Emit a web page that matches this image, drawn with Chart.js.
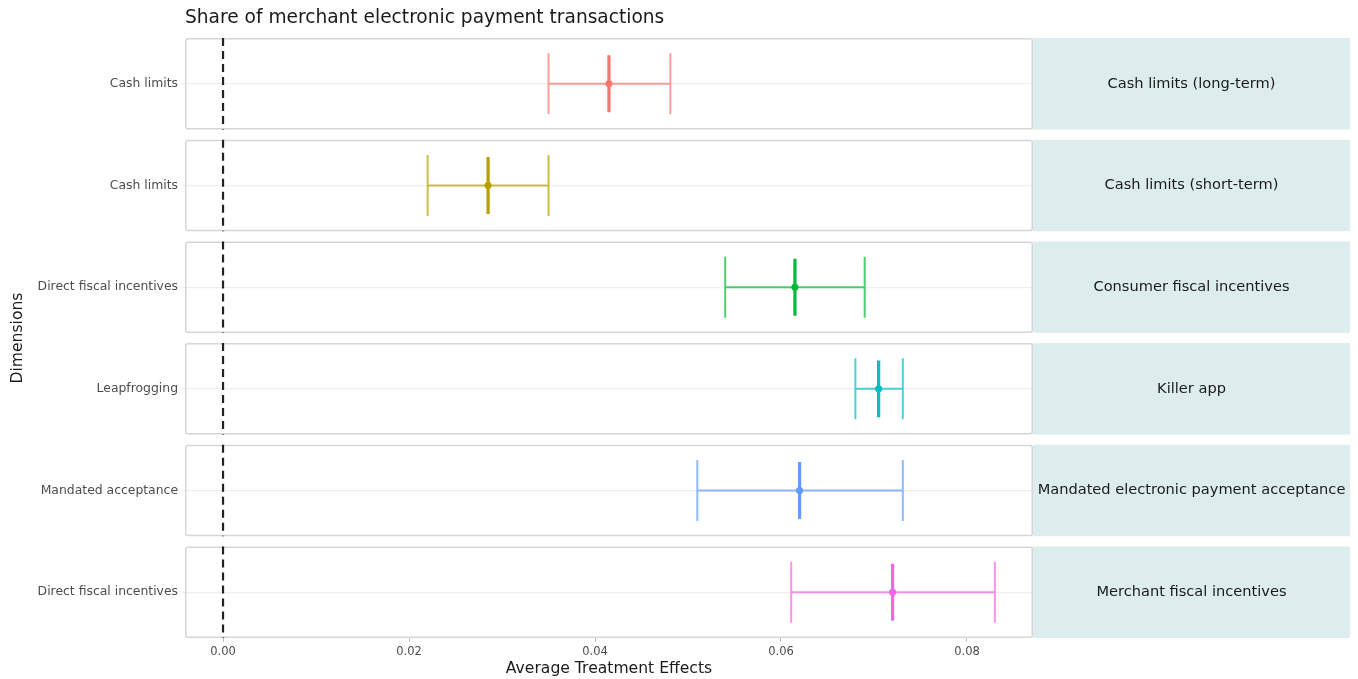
<!DOCTYPE html>
<html>
<head>
<meta charset="utf-8">
<script src="https://cdn.jsdelivr.net/npm/chart.js@4/dist/chart.umd.min.js"></script>
<style>
html,body{margin:0;padding:0;background:#fff;}
#wrap{width:1358px;height:679px;}
</style>
</head>
<body>
<div id="wrap"><canvas id="c" width="1358" height="679"></canvas></div>
<script>
// ---- data ----
const dimensions = ["Cash limits", "Cash limits", "Direct fiscal incentives", "Leapfrogging", "Mandated acceptance", "Direct fiscal incentives"];
const policies = ["Cash limits (long-term)", "Cash limits (short-term)", "Consumer fiscal incentives", "Killer app", "Mandated electronic payment acceptance", "Merchant fiscal incentives"];
const estimates = [0.0415, 0.0285, 0.0615, 0.0705, 0.0620, 0.0720];
const lowerCI   = [0.0350, 0.0220, 0.0540, 0.0680, 0.0510, 0.0611];
const upperCI   = [0.0481, 0.0350, 0.0690, 0.0731, 0.0731, 0.0830];
const xTicks = [0, 0.02, 0.04, 0.06, 0.08];
const colors = ["#F8766D", "#B79F00", "#00BA38", "#00BFC4", "#619CFF", "#F564E3"];

function alpha(hex, a){
  const r=parseInt(hex.slice(1,3),16),g=parseInt(hex.slice(3,5),16),b=parseInt(hex.slice(5,7),16);
  return `rgba(${r},${g},${b},${a})`;
}

const HALF = 0.45;   // half panel height in y units
const WH = 0.30;     // whisker half height
const CH = 0.28;     // center line half height
const FONT = '"DejaVu Sans", "Liberation Sans", Arial, sans-serif';

const datasets = [];
// dashed zero line per panel
const zeroPts = [];
dimensions.forEach((d,i)=>{ zeroPts.push({x:0,y:i-HALF},{x:0,y:i+HALF},{x:NaN,y:NaN}); });
datasets.push({type:'line', data:zeroPts, borderColor:'#222', borderWidth:2.2, borderDash:[8,5], pointRadius:0, spanGaps:false, order:0});

estimates.forEach((est,i)=>{
  const lo=lowerCI[i], hi=upperCI[i], c=colors[i];
  datasets.push({type:'line', data:[
      {x:lo,y:i-WH},{x:lo,y:i+WH},{x:NaN,y:NaN},
      {x:lo,y:i},{x:hi,y:i},{x:NaN,y:NaN},
      {x:hi,y:i-WH},{x:hi,y:i+WH}
    ], borderColor:alpha(c,0.7), borderWidth:2, pointRadius:0, spanGaps:false, order:2});
  datasets.push({type:'line', data:[{x:est,y:i-CH},{x:est,y:i+CH}], borderColor:c, borderWidth:3.2, pointRadius:0, order:1});
  datasets.push({type:'scatter', data:[{x:est,y:i}], backgroundColor:c, borderColor:c, pointRadius:3.2, order:1});
});

const panelPlugin = {
  id:'panels',
  beforeDatasetsDraw(chart){
    const {ctx, chartArea:a, scales:{y}} = chart;
    ctx.save();
    dimensions.forEach((d,i)=>{
      const t = y.getPixelForValue(i-HALF), b = y.getPixelForValue(i+HALF);
      ctx.strokeStyle = '#D6D6D6';
      ctx.lineWidth = 1.5;
      ctx.beginPath();
      if (ctx.roundRect) ctx.roundRect(a.left+0.75, t+0.75, a.right-a.left-1.5, b-t-1.5, 2);
      else ctx.rect(a.left+0.75, t+0.75, a.right-a.left-1.5, b-t-1.5);
      ctx.stroke();
      ctx.fillStyle = '#DDEDED';
      ctx.fillRect(a.right, t, 1350-a.right, b-t);
      ctx.fillStyle = '#1A1A1A';
      ctx.font = '14.6px ' + FONT;
      ctx.textAlign = 'center';
      ctx.textBaseline = 'middle';
      ctx.fillText(policies[i], (a.right+1350)/2, (t+b)/2);
    });
    ctx.restore();
  }
};

Chart.defaults.font.family = FONT;

new Chart(document.getElementById('c'), {
  type:'line',
  data:{datasets},
  options:{
    responsive:false,
    animation:false,
    layout:{padding:{left:0, right:325, top:0, bottom:0}},
    plugins:{
      legend:{display:false},
      tooltip:{enabled:false},
      title:{display:true, text:'Share of merchant electronic payment transactions', align:'start', fullSize:false,
        color:'#1A1A1A', font:{size:18.6, weight:'normal'}, padding:{top:7, bottom:8.7}}
    },
    scales:{
      x:{type:'linear', min:-0.00409, max:0.08710,
        afterBuildTicks(s){ s.ticks = xTicks.map(v=>({value:v})); },
        afterFit(s){ s.height = 41; },
        grid:{drawOnChartArea:false, drawTicks:true, tickLength:4, color:'#BDBDBD', lineWidth:1},
        border:{display:false},
        ticks:{color:'#4D4D4D', font:{size:11.5}, padding:3, maxRotation:0, callback:v=>Number(v).toFixed(2)},
        title:{display:true, text:'Average Treatment Effects', color:'#1A1A1A', font:{size:15.6}, padding:{top:0,bottom:1}}
      },
      y:{type:'linear', reverse:true, min:-HALF, max:dimensions.length-1+HALF,
        afterBuildTicks(s){ s.ticks = dimensions.map((d,i)=>({value:i})); },
        afterFit(s){ s.width = 185; },
        grid:{color:'#EFEFEF', lineWidth:1.2, drawTicks:true, tickLength:3},
        border:{display:false},
        ticks:{color:'#4D4D4D', font:{size:12.4}, padding:4, callback:(v)=>dimensions[Math.round(v)]},
        title:{display:true, text:'Dimensions', color:'#1A1A1A', font:{size:15.6}, padding:{top:9,bottom:0}}
      }
    }
  },
  plugins:[panelPlugin]
});
</script>
</body>
</html>
